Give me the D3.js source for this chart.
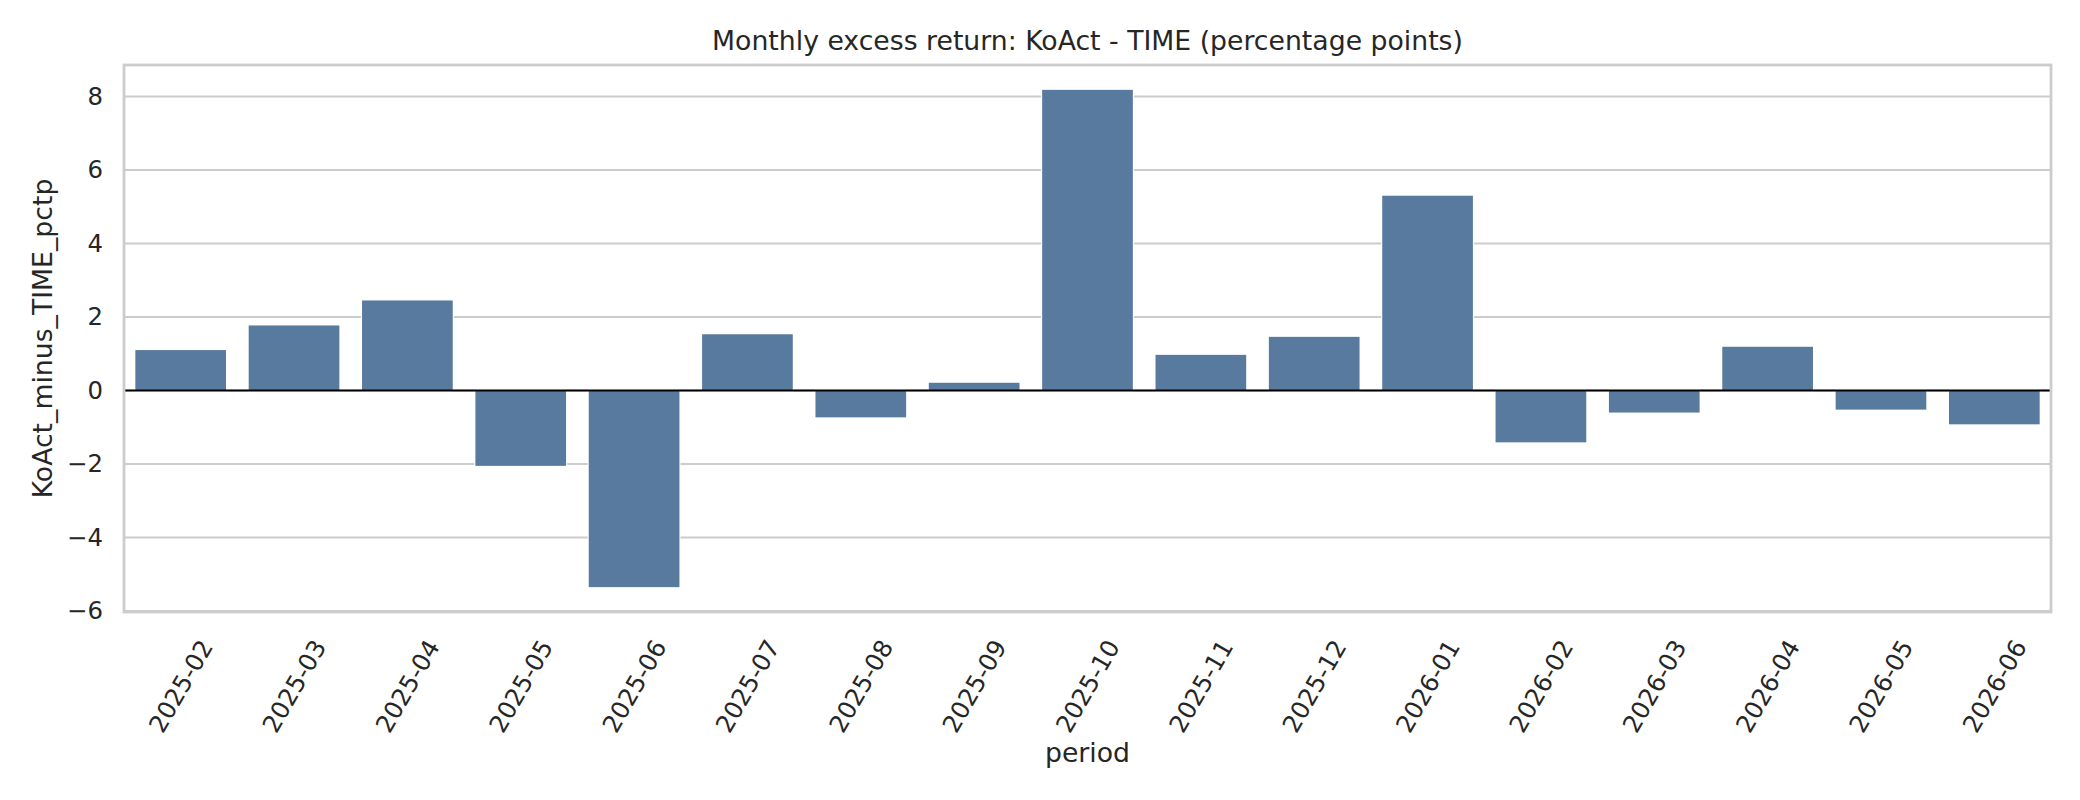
<!DOCTYPE html>
<html>
<head>
<meta charset="utf-8">
<script src="https://cdn.jsdelivr.net/npm/d3@7"></script>
<style>
  html, body { margin: 0; padding: 0; background: #ffffff; }
  svg { display: block; }
  text { font-family: "DejaVu Sans", sans-serif; fill: #262626; }
</style>
</head>
<body>
<svg id="chart" width="2080" height="800"></svg>
<script>
// ---- data ----
const periods = ["2025-02","2025-03","2025-04","2025-05","2025-06","2025-07","2025-08","2025-09",
                 "2025-10","2025-11","2025-12","2026-01","2026-02","2026-03","2026-04","2026-05","2026-06"];
const excessReturn = [1.10, 1.77, 2.45, -2.05, -5.35, 1.53, -0.73, 0.21,
                      8.18, 0.97, 1.46, 5.30, -1.41, -0.60, 1.19, -0.52, -0.92];
const yTicks = [-6, -4, -2, 0, 2, 4, 6, 8];
const titleText = "Monthly excess return: KoAct - TIME (percentage points)";
const xLabel = "period";
const yLabel = "KoAct_minus_TIME_pctp";

// ---- layout ----
const W = 2080, H = 800;
const plot = { left: 124, right: 2051, top: 65, bottom: 612 };
const barColor = "#587a9e";
const gridColor = "#cccccc";

const svg = d3.select("#chart");
svg.append("rect").attr("width", W).attr("height", H).attr("fill", "#ffffff");

// y domain with matplotlib-like 5% margins (bars include 0)
const lo = Math.min(0, d3.min(excessReturn)), hi = Math.max(0, d3.max(excessReturn));
const m = (hi - lo) * 0.05;
const y = d3.scaleLinear().domain([lo - m, hi + m]).range([plot.bottom, plot.top]);
const x = d3.scaleBand().domain(periods).range([plot.left, plot.right])
  .paddingInner(0.2).paddingOuter(0.1);

// gridlines
svg.append("g").selectAll("line").data(yTicks).join("line")
  .attr("x1", plot.left).attr("x2", plot.right)
  .attr("y1", d => y(d)).attr("y2", d => y(d))
  .attr("stroke", gridColor).attr("stroke-width", 2);

// bars
svg.append("g").selectAll("rect").data(periods).join("rect")
  .attr("x", d => x(d))
  .attr("width", x.bandwidth())
  .attr("y", (d, i) => y(Math.max(0, excessReturn[i])))
  .attr("height", (d, i) => Math.abs(y(excessReturn[i]) - y(0)))
  .attr("fill", barColor)
  .attr("stroke", "#ffffff").attr("stroke-width", 2.2)
  .style("paint-order", "stroke");

// zero line
svg.append("line")
  .attr("x1", plot.left).attr("x2", plot.right)
  .attr("y1", y(0)).attr("y2", y(0))
  .attr("stroke", "#000000").attr("stroke-width", 2.2);

// spines
svg.append("rect")
  .attr("x", plot.left).attr("y", plot.top)
  .attr("width", plot.right - plot.left).attr("height", plot.bottom - plot.top)
  .attr("fill", "none").attr("stroke", gridColor).attr("stroke-width", 2.8);

// y tick labels
const yAxis = d3.axisLeft(y).tickValues(yTicks).tickSize(0).tickPadding(21)
  .tickFormat(d => (d < 0 ? "\u2212" + Math.abs(d) : String(d)));
const gy = svg.append("g").attr("transform", `translate(${plot.left},0)`).call(yAxis);
gy.select(".domain").remove();
gy.selectAll("text")
  .style("font-family", "'DejaVu Sans', sans-serif")
  .style("font-size", "24.4px").attr("fill", "#262626");

// x tick labels (rotated 60°)
const xAxis = d3.axisBottom(x).tickSize(0).tickPadding(0);
const gx = svg.append("g").attr("transform", `translate(0,${plot.bottom})`).call(xAxis);
gx.select(".domain").remove();
gx.selectAll(".tick text")
  .style("font-family", "'DejaVu Sans', sans-serif")
  .style("font-size", "24.4px").attr("fill", "#262626")
  .attr("text-anchor", "middle")
  .attr("y", 0).attr("dy", "0.36em")
  .attr("transform", "translate(0,74) rotate(-60)");

// title
svg.append("text")
  .attr("x", (plot.left + plot.right) / 2).attr("y", 50)
  .attr("text-anchor", "middle").style("font-size", "26.7px")
  .text(titleText);

// axis labels
svg.append("text")
  .attr("x", (plot.left + plot.right) / 2).attr("y", 762)
  .attr("text-anchor", "middle").style("font-size", "26.7px")
  .text(xLabel);
svg.append("text")
  .attr("transform", `translate(52,${(plot.top + plot.bottom) / 2}) rotate(-90)`)
  .attr("text-anchor", "middle").style("font-size", "26.7px")
  .text(yLabel);
</script>
</body>
</html>
